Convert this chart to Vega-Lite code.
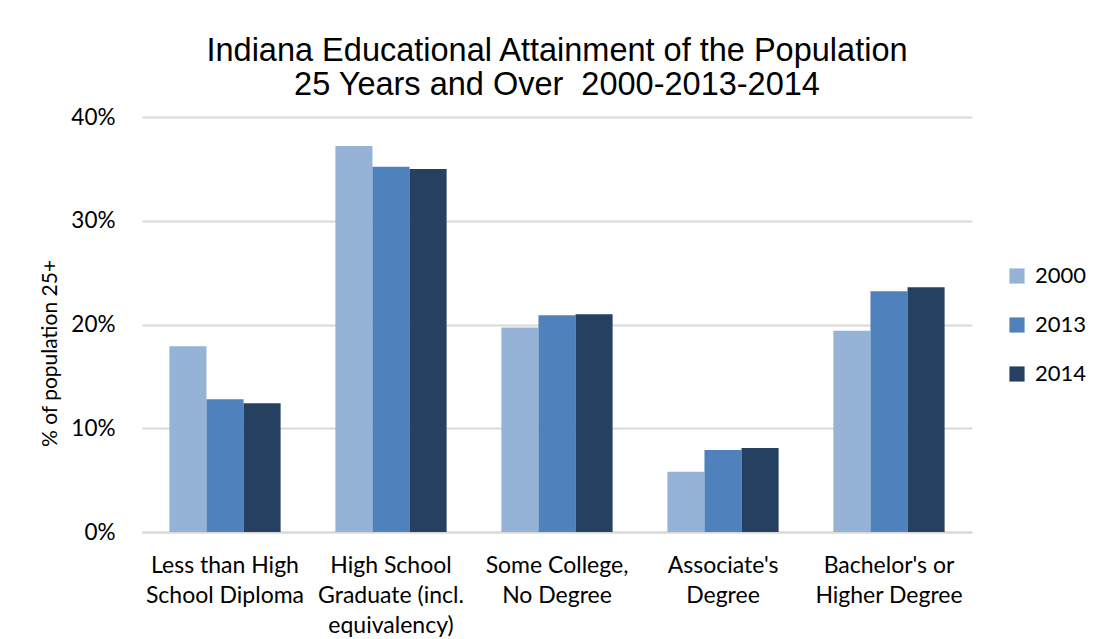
{
  "$schema": "https://vega.github.io/schema/vega-lite/v6.json",
  "width": 830,
  "height": 415,
  "autosize": {"type": "none"},
  "padding": {"left": 142, "top": 117, "right": 130, "bottom": 107},
  "background": "white",
  "title": {
    "text": ["Indiana Educational Attainment of the Population", "25 Years and Over\u00a0 2000-2013-2014"],
    "font": "Liberation Sans",
    "fontSize": 32.5,
    "fontWeight": "normal",
    "color": "#000000",
    "anchor": "middle",
    "lineHeight": 34,
    "offset": 5
  },
  "data": {
    "values": [
      {"category": "Less than High|School Diploma", "year": "2000", "pct": 0.179},
      {"category": "Less than High|School Diploma", "year": "2013", "pct": 0.128},
      {"category": "Less than High|School Diploma", "year": "2014", "pct": 0.124},
      {"category": "High School|Graduate (incl.|equivalency)", "year": "2000", "pct": 0.372},
      {"category": "High School|Graduate (incl.|equivalency)", "year": "2013", "pct": 0.352},
      {"category": "High School|Graduate (incl.|equivalency)", "year": "2014", "pct": 0.350},
      {"category": "Some College,|No Degree", "year": "2000", "pct": 0.197},
      {"category": "Some College,|No Degree", "year": "2013", "pct": 0.209},
      {"category": "Some College,|No Degree", "year": "2014", "pct": 0.210},
      {"category": "Associate's|Degree", "year": "2000", "pct": 0.058},
      {"category": "Associate's|Degree", "year": "2013", "pct": 0.079},
      {"category": "Associate's|Degree", "year": "2014", "pct": 0.081},
      {"category": "Bachelor's or|Higher Degree", "year": "2000", "pct": 0.194},
      {"category": "Bachelor's or|Higher Degree", "year": "2013", "pct": 0.232},
      {"category": "Bachelor's or|Higher Degree", "year": "2014", "pct": 0.236}
    ]
  },
  "mark": {"type": "bar"},
  "encoding": {
    "x": {
      "field": "category",
      "type": "nominal",
      "sort": null,
      "scale": {"paddingInner": 0.33, "paddingOuter": 0.165},
      "axis": {
        "title": null,
        "labelAngle": 0,
        "labelExpr": "split(datum.value, '|')",
        "labelFont": "Lato",
        "labelFontSize": 23,
        "labelColor": "#000000",
        "labelLineHeight": 30,
        "labelPadding": 22,
        "ticks": false,
        "domain": true,
        "domainColor": "#D9D9D9",
        "domainWidth": 2
      }
    },
    "xOffset": {"field": "year", "type": "nominal"},
    "y": {
      "field": "pct",
      "type": "quantitative",
      "scale": {"domain": [0, 0.4]},
      "axis": {
        "title": "% of population 25+",
        "titleFont": "Lato",
        "titleFontSize": 21,
        "titleFontWeight": "normal",
        "titleColor": "#000000",
        "titlePadding": 10,
        "titleY": 236,
        "format": ".0%",
        "values": [0, 0.1, 0.2, 0.3, 0.4],
        "labelFont": "Lato",
        "labelFontSize": 22.5,
        "labelColor": "#000000",
        "labelPadding": 27,
        "ticks": false,
        "domain": false,
        "grid": true,
        "gridColor": "#D9D9D9",
        "gridWidth": 2
      }
    },
    "color": {
      "field": "year",
      "type": "nominal",
      "scale": {"domain": ["2000", "2013", "2014"], "range": ["#95B3D7", "#4F81BD", "#254061"]},
      "legend": {
        "title": null,
        "orient": "none",
        "legendX": 864,
        "legendY": 148,
        "symbolType": "square",
        "symbolSize": 230,
        "symbolStrokeWidth": 0,
        "labelFont": "Lato",
        "labelFontSize": 22,
        "labelColor": "#000000",
        "labelOffset": 7,
        "rowPadding": 27
      }
    }
  },
  "config": {"view": {"stroke": null}}
}
